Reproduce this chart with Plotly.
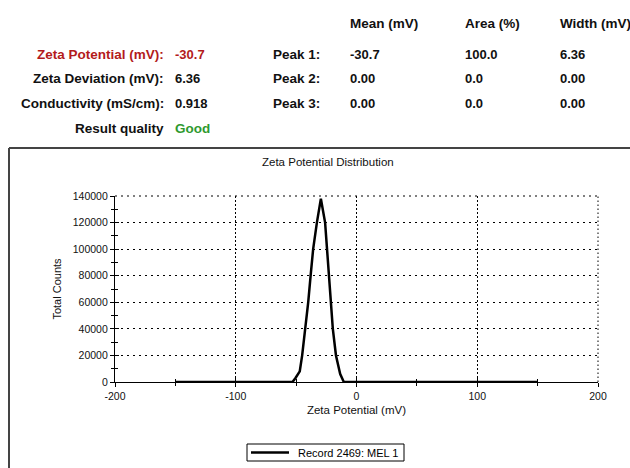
import plotly.graph_objects as go

# ---- data ----
zeta_mv = [-150, -53, -50.5, -47, -45, -42.3, -40, -38, -35.9, -32.8, -29.5,
           -26, -24.3, -22.9, -21.5, -19.6, -17, -13.5, -10.5, 150]
counts = [0, 0, 3000, 8000, 20000, 40000, 60000, 80000, 100000, 120000, 138000,
          120000, 100000, 80000, 60000, 40000, 20000, 6000, 0, 0]
series_name = "Record 2469: MEL 1"

x_tick_vals = [-200, -100, 0, 100, 200]
x_tick_text = ["-200", "-100", "0", "100", "200"]
y_tick_vals = [0, 20000, 40000, 60000, 80000, 100000, 120000, 140000]
y_tick_text = ["0", "20000", "40000", "60000", "80000", "100000", "120000", "140000"]

summary_labels = ["Zeta Potential (mV):", "Zeta Deviation (mV):", "Conductivity (mS/cm):", "Result quality"]
summary_values = ["-30.7", "6.36", "0.918", "Good"]
peak_labels = ["Peak 1:", "Peak 2:", "Peak 3:"]
peak_headers = ["Mean (mV)", "Area (%)", "Width (mV)"]
peak_mean = ["-30.7", "0.00", "0.00"]
peak_area = ["100.0", "0.0", "0.0"]
peak_width = ["6.36", "0.00", "0.00"]

# ---- geometry ----
W, H = 630, 468
ML, MR, MT, MB = 115, 32, 196, 86
PW = W - ML - MR
PH = H - MT - MB
FONT = "Liberation Sans, Arial, sans-serif"


def px(x):
    return (x - ML) / PW


def py(y):
    return (MT + PH - y) / PH


fig = go.Figure()
fig.add_trace(go.Scatter(x=zeta_mv, y=counts, mode="lines", name=series_name,
                         line=dict(color="black", width=2.5), showlegend=False))
# empty trace on overlay axes to draw inside tick marks
fig.add_trace(go.Scatter(x=[], y=[], xaxis="x2", yaxis="y2", showlegend=False, hoverinfo="skip"))

fig.update_layout(
    width=W, height=H, margin=dict(l=ML, r=MR, t=MT, b=MB, pad=0, autoexpand=False),
    paper_bgcolor="white", plot_bgcolor="white",
    font=dict(family=FONT, size=11, color="#111"),
    xaxis=dict(range=[-200, 200], tickvals=x_tick_vals, ticktext=x_tick_text,
               ticks="outside", ticklen=4, tickcolor="black", tickwidth=1.2,
               minor=dict(dtick=50, tick0=0, ticks="outside", ticklen=3, tickcolor="black", showgrid=False),
               showline=True, linecolor="black", linewidth=1.2, zeroline=False,
               title=dict(text="Zeta Potential (mV)", font=dict(size=11.5), standoff=5),
               tickfont=dict(size=10.5),
               showgrid=True, gridcolor="black", gridwidth=1, griddash="1.5px,2.5px"),
    yaxis=dict(range=[0, 140000], tickvals=y_tick_vals, ticktext=y_tick_text,
               ticks="outside", ticklen=4, tickcolor="black", tickwidth=1.2,
               minor=dict(dtick=10000, tick0=0, ticks="outside", ticklen=3, tickcolor="black", showgrid=False),
               showline=True, linecolor="black", linewidth=1.2, zeroline=False,
               title=dict(text="Total Counts", font=dict(size=11), standoff=8),
               tickfont=dict(size=10.5),
               showgrid=True, gridcolor="black", gridwidth=1, griddash="2px,4px"),
    xaxis2=dict(range=[-200, 200], overlaying="x", tickvals=x_tick_vals, showticklabels=False,
                ticks="inside", ticklen=4, tickcolor="black", tickwidth=1.2, showgrid=False,
                zeroline=False, showline=False,
                minor=dict(dtick=50, tick0=0, ticks="inside", ticklen=3, tickcolor="black")),
    yaxis2=dict(range=[0, 140000], overlaying="y", tickvals=y_tick_vals, showticklabels=False,
                ticks="inside", ticklen=4, tickcolor="black", tickwidth=1.2, showgrid=False,
                zeroline=False, showline=False,
                minor=dict(dtick=10000, tick0=0, ticks="inside", ticklen=3, tickcolor="black")),
    showlegend=False,
)

ann = []
# chart title
ann.append(dict(x=px(328), y=py(162), text="Zeta Potential Distribution", showarrow=False,
                xref="paper", yref="paper", xanchor="center", yanchor="middle",
                font=dict(size=11.5, color="#111")))
rows_y = [54, 79, 103, 128]
label_colors = ["#b31b1b", "#111", "#111", "#111"]
value_colors = ["#b31b1b", "#111", "#111", "#2f9a2f"]
LBL = 13.5
VAL = 13
for i, (lab, val) in enumerate(zip(summary_labels, summary_values)):
    ann.append(dict(x=px(166), y=py(rows_y[i]), text="<b>%s</b>" % lab, showarrow=False,
                    xref="paper", yref="paper", xanchor="right", yanchor="middle",
                    font=dict(size=LBL, color=label_colors[i])))
    ann.append(dict(x=px(173), y=py(rows_y[i]), text="<b>%s</b>" % val, showarrow=False,
                    xref="paper", yref="paper", xanchor="left", yanchor="middle",
                    font=dict(size=LBL if i == 3 else VAL, color=value_colors[i])))
col_x = [348, 463, 558]
for j, hdr in enumerate(peak_headers):
    ann.append(dict(x=px(col_x[j]), y=py(23), text="<b>%s</b>" % hdr, showarrow=False,
                    xref="paper", yref="paper", xanchor="left", yanchor="middle",
                    font=dict(size=LBL, color="#111")))
for i, lab in enumerate(peak_labels):
    ann.append(dict(x=px(322), y=py(rows_y[i]), text="<b>%s</b>" % lab, showarrow=False,
                    xref="paper", yref="paper", xanchor="right", yanchor="middle",
                    font=dict(size=LBL, color="#111")))
    for j, col in enumerate([peak_mean, peak_area, peak_width]):
        ann.append(dict(x=px(col_x[j]), y=py(rows_y[i]), text="<b>%s</b>" % col[i], showarrow=False,
                        xref="paper", yref="paper", xanchor="left", yanchor="middle",
                        font=dict(size=VAL, color="#111")))

# legend (drawn as a boxed key)
ann.append(dict(x=px(296), y=py(452.5), text=series_name, showarrow=False,
                xref="paper", yref="paper", xanchor="left", yanchor="middle",
                font=dict(size=11, color="black")))
fig.update_layout(annotations=ann)
fig.add_shape(type="rect", xref="paper", yref="paper", x0=px(247), x1=px(404), y0=py(444), y1=py(461),
              line=dict(color="black", width=1), fillcolor="white")
fig.add_shape(type="line", xref="paper", yref="paper", x0=px(251), x1=px(289), y0=py(452.5), y1=py(452.5),
              line=dict(color="black", width=2.5))

# dotted gridlines at the top and right edges of the plot
fig.add_shape(type="line", xref="paper", yref="paper", x0=0, x1=1, y0=1, y1=1,
              line=dict(color="black", width=1, dash="2px,4px"))
fig.add_shape(type="line", xref="paper", yref="paper", x0=1, x1=1, y0=0, y1=1,
              line=dict(color="black", width=1, dash="1.5px,2.5px"))

# outer frame (left and top edges visible)
fig.add_shape(type="line", xref="paper", yref="paper", x0=px(9), x1=px(9), y0=py(148), y1=py(480),
              line=dict(color="#444", width=2))
fig.add_shape(type="line", xref="paper", yref="paper", x0=px(9), x1=px(640), y0=py(148), y1=py(148),
              line=dict(color="#444", width=2))

fig.write_html("out.html")
